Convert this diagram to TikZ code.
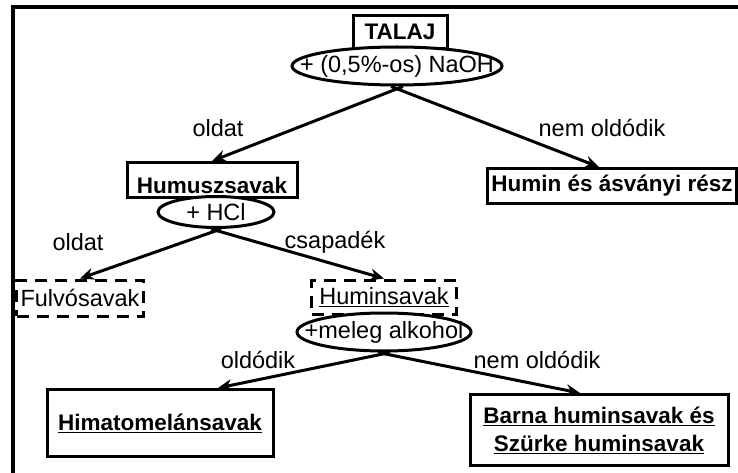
\documentclass[tikz,border=0pt]{standalone}
\usepackage{fontspec}
\setmainfont{Liberation Sans}
\usetikzlibrary{arrows.meta,shapes.geometric}
\newcommand\fsz{\fontsize{23.5}{28}\selectfont}
\newcommand\fbz{\fontsize{22.5}{28}\selectfont\bfseries}
\begin{document}
\begin{tikzpicture}[x=1pt,y=-1pt,
  every node/.style={font=\fsz},
  box/.style={draw,line width=3pt,inner sep=0pt,align=center,fill=white,font=\fbz},
  dbox/.style={draw,line width=3pt,dash pattern=on 12pt off 8pt,inner sep=0pt,fill=white},
  oval/.style={draw,ellipse,line width=3pt,fill=white,inner sep=0pt},
  arr/.style={line width=3pt,-{Stealth[length=14pt,width=12pt]}},
  lbl/.style={inner sep=0pt}]
\useasboundingbox (0,0) rectangle (738,473);
\draw[line width=3.2pt] (13,473) -- (13,7) -- (738,7);

% boxes
\node[box,minimum width=94pt,minimum height=33pt] (talaj) at (400,32) {TALAJ};
\node[oval,minimum width=210pt,minimum height=38pt] (naoh) at (397,66) {\makebox[0pt]{+ (0,5\%-os) NaOH}};

\node[box,minimum width=170pt,text height=31pt,text depth=4pt] (humusz) at (212,180) {Humuszsavak};
\node[oval,minimum width=116pt,minimum height=31pt] (hcl) at (216,212) {\makebox[0pt]{+ HCl}};

\node[box,minimum width=249pt,minimum height=35pt] (humin) at (612,186) {Humin és ásványi rész};

\node[dbox,minimum width=127pt,minimum height=36pt] (fulvo) at (80,298) {Fulvósavak};
\node[dbox,minimum width=145pt,minimum height=34pt] (huminsav) at (384,297) {\underline{Huminsavak}};
\node[oval,minimum width=174pt,minimum height=38pt] (alk) at (384,332) {\makebox[0pt]{+meleg alkohol}};

\node[box,minimum width=226pt,minimum height=67pt] (himato) at (160,423) {\underline{Himatomelánsavak}};
\node[box,minimum width=258pt,minimum height=71pt] (barna) at (599,430) {\underline{Barna huminsavak és}\\\underline{Szürke huminsavak}};

% labels
\node[lbl] (l1) at (218,128) {oldat};
\node[lbl] (l2) at (602,128) {nem oldódik};
\node[lbl] (l3) at (78,242) {oldat};
\node[lbl] (l4) at (335,242) {csapadék};
\node[lbl] (l5) at (258,360) {oldódik};
\node[lbl] (l6) at (537,360) {nem oldódik};

% arrows
\draw[arr] ([xshift=6pt]naoh.south) -- (humusz.north);
\draw[arr] ([xshift=-6pt]naoh.south) -- ([xshift=-13pt]humin.north);
\draw[arr] ([xshift=5pt]hcl.south) -- (fulvo.north);
\draw[arr] ([xshift=-5pt]hcl.south) -- (huminsav.north);
\draw[arr] ([xshift=6pt]alk.south) -- ([xshift=58pt]himato.north);
\draw[arr] ([xshift=-6pt]alk.south) -- ([xshift=-19pt]barna.north);
\end{tikzpicture}
\end{document}
